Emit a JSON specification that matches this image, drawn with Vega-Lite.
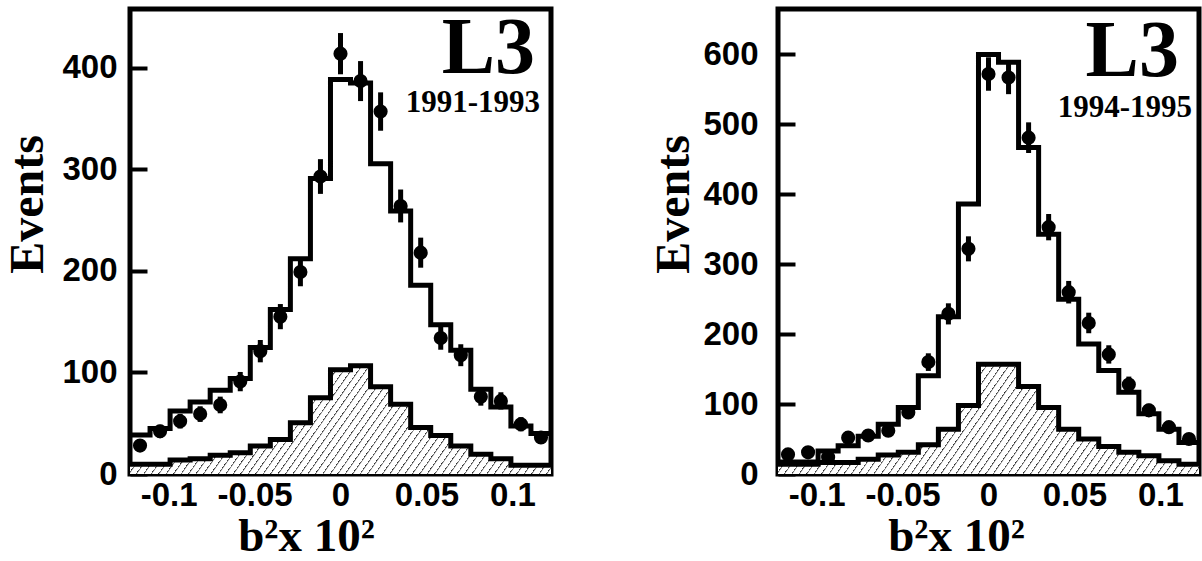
{
  "$schema": "https://vega.github.io/schema/vega-lite/v6.json",
  "background": "white",
  "padding": {"left": 2, "top": 6, "right": 0, "bottom": 0},
  "spacing": 84,
  "config": {
    "view": {"stroke": "black", "strokeWidth": 5},
    "axis": {"domain": false, "grid": false, "ticks": true, "tickColor": "black", "tickWidth": 4, "labelFont": "Liberation Sans", "labelFontWeight": "bold", "labelFontSize": 33, "labelColor": "black", "titleFont": "Liberation Serif", "titleFontWeight": "bold", "titleFontSize": 48, "titleColor": "black", "labelOverlap": false, "labelFlush": false},
    "axisY": {"tickSize": -17},
    "axisX": {"tickSize": -10, "titleFontSize": 47},
    "area": {"fill": {"gradient": "linear", "x1": 0, "y1": 0, "x2": 1.1435, "y2": 0.2073, "stops": [
      {"offset":0,"color":"#fff"},{"offset":0,"color":"#222"},{"offset":0.0035,"color":"#fff"},
      {"offset":0.015,"color":"#fff"},{"offset":0.015,"color":"#222"},{"offset":0.0185,"color":"#fff"},
      {"offset":0.03,"color":"#fff"},{"offset":0.03,"color":"#222"},{"offset":0.0335,"color":"#fff"},
      {"offset":0.045,"color":"#fff"},{"offset":0.045,"color":"#222"},{"offset":0.0485,"color":"#fff"},
      {"offset":0.06,"color":"#fff"},{"offset":0.06,"color":"#222"},{"offset":0.0635,"color":"#fff"},
      {"offset":0.075,"color":"#fff"},{"offset":0.075,"color":"#222"},{"offset":0.0785,"color":"#fff"},
      {"offset":0.09,"color":"#fff"},{"offset":0.09,"color":"#222"},{"offset":0.0935,"color":"#fff"},
      {"offset":0.105,"color":"#fff"},{"offset":0.105,"color":"#222"},{"offset":0.1085,"color":"#fff"},
      {"offset":0.12,"color":"#fff"},{"offset":0.12,"color":"#222"},{"offset":0.1235,"color":"#fff"},
      {"offset":0.135,"color":"#fff"},{"offset":0.135,"color":"#222"},{"offset":0.1385,"color":"#fff"},
      {"offset":0.15,"color":"#fff"},{"offset":0.15,"color":"#222"},{"offset":0.1535,"color":"#fff"},
      {"offset":0.165,"color":"#fff"},{"offset":0.165,"color":"#222"},{"offset":0.1685,"color":"#fff"},
      {"offset":0.18,"color":"#fff"},{"offset":0.18,"color":"#222"},{"offset":0.1835,"color":"#fff"},
      {"offset":0.195,"color":"#fff"},{"offset":0.195,"color":"#222"},{"offset":0.1985,"color":"#fff"},
      {"offset":0.21,"color":"#fff"},{"offset":0.21,"color":"#222"},{"offset":0.2135,"color":"#fff"},
      {"offset":0.225,"color":"#fff"},{"offset":0.225,"color":"#222"},{"offset":0.2285,"color":"#fff"},
      {"offset":0.24,"color":"#fff"},{"offset":0.24,"color":"#222"},{"offset":0.2435,"color":"#fff"},
      {"offset":0.255,"color":"#fff"},{"offset":0.255,"color":"#222"},{"offset":0.2585,"color":"#fff"},
      {"offset":0.27,"color":"#fff"},{"offset":0.27,"color":"#222"},{"offset":0.2735,"color":"#fff"},
      {"offset":0.285,"color":"#fff"},{"offset":0.285,"color":"#222"},{"offset":0.2885,"color":"#fff"},
      {"offset":0.3,"color":"#fff"},{"offset":0.3,"color":"#222"},{"offset":0.3035,"color":"#fff"},
      {"offset":0.315,"color":"#fff"},{"offset":0.315,"color":"#222"},{"offset":0.3185,"color":"#fff"},
      {"offset":0.33,"color":"#fff"},{"offset":0.33,"color":"#222"},{"offset":0.3335,"color":"#fff"},
      {"offset":0.345,"color":"#fff"},{"offset":0.345,"color":"#222"},{"offset":0.3485,"color":"#fff"},
      {"offset":0.36,"color":"#fff"},{"offset":0.36,"color":"#222"},{"offset":0.3635,"color":"#fff"},
      {"offset":0.375,"color":"#fff"},{"offset":0.375,"color":"#222"},{"offset":0.3785,"color":"#fff"},
      {"offset":0.39,"color":"#fff"},{"offset":0.39,"color":"#222"},{"offset":0.3935,"color":"#fff"},
      {"offset":0.405,"color":"#fff"},{"offset":0.405,"color":"#222"},{"offset":0.4085,"color":"#fff"},
      {"offset":0.42,"color":"#fff"},{"offset":0.42,"color":"#222"},{"offset":0.4235,"color":"#fff"},
      {"offset":0.435,"color":"#fff"},{"offset":0.435,"color":"#222"},{"offset":0.4385,"color":"#fff"},
      {"offset":0.45,"color":"#fff"},{"offset":0.45,"color":"#222"},{"offset":0.4535,"color":"#fff"},
      {"offset":0.465,"color":"#fff"},{"offset":0.465,"color":"#222"},{"offset":0.4685,"color":"#fff"},
      {"offset":0.48,"color":"#fff"},{"offset":0.48,"color":"#222"},{"offset":0.4835,"color":"#fff"},
      {"offset":0.495,"color":"#fff"},{"offset":0.495,"color":"#222"},{"offset":0.4985,"color":"#fff"},
      {"offset":0.51,"color":"#fff"},{"offset":0.51,"color":"#222"},{"offset":0.5135,"color":"#fff"},
      {"offset":0.525,"color":"#fff"},{"offset":0.525,"color":"#222"},{"offset":0.5285,"color":"#fff"},
      {"offset":0.54,"color":"#fff"},{"offset":0.54,"color":"#222"},{"offset":0.5435,"color":"#fff"},
      {"offset":0.555,"color":"#fff"},{"offset":0.555,"color":"#222"},{"offset":0.5585,"color":"#fff"},
      {"offset":0.57,"color":"#fff"},{"offset":0.57,"color":"#222"},{"offset":0.5735,"color":"#fff"},
      {"offset":0.585,"color":"#fff"},{"offset":0.585,"color":"#222"},{"offset":0.5885,"color":"#fff"},
      {"offset":0.6,"color":"#fff"},{"offset":0.6,"color":"#222"},{"offset":0.6035,"color":"#fff"},
      {"offset":0.615,"color":"#fff"},{"offset":0.615,"color":"#222"},{"offset":0.6185,"color":"#fff"},
      {"offset":0.63,"color":"#fff"},{"offset":0.63,"color":"#222"},{"offset":0.6335,"color":"#fff"},
      {"offset":0.645,"color":"#fff"},{"offset":0.645,"color":"#222"},{"offset":0.6485,"color":"#fff"},
      {"offset":0.66,"color":"#fff"},{"offset":0.66,"color":"#222"},{"offset":0.6635,"color":"#fff"},
      {"offset":0.675,"color":"#fff"},{"offset":0.675,"color":"#222"},{"offset":0.6785,"color":"#fff"},
      {"offset":0.69,"color":"#fff"},{"offset":0.69,"color":"#222"},{"offset":0.6935,"color":"#fff"},
      {"offset":0.705,"color":"#fff"},{"offset":0.705,"color":"#222"},{"offset":0.7085,"color":"#fff"},
      {"offset":0.72,"color":"#fff"},{"offset":0.72,"color":"#222"},{"offset":0.7235,"color":"#fff"},
      {"offset":0.735,"color":"#fff"},{"offset":0.735,"color":"#222"},{"offset":0.7385,"color":"#fff"},
      {"offset":0.75,"color":"#fff"},{"offset":0.75,"color":"#222"},{"offset":0.7535,"color":"#fff"},
      {"offset":0.765,"color":"#fff"},{"offset":0.765,"color":"#222"},{"offset":0.7685,"color":"#fff"},
      {"offset":0.78,"color":"#fff"},{"offset":0.78,"color":"#222"},{"offset":0.7835,"color":"#fff"},
      {"offset":0.795,"color":"#fff"},{"offset":0.795,"color":"#222"},{"offset":0.7985,"color":"#fff"},
      {"offset":0.81,"color":"#fff"},{"offset":0.81,"color":"#222"},{"offset":0.8135,"color":"#fff"},
      {"offset":0.825,"color":"#fff"},{"offset":0.825,"color":"#222"},{"offset":0.8285,"color":"#fff"},
      {"offset":0.84,"color":"#fff"},{"offset":0.84,"color":"#222"},{"offset":0.8435,"color":"#fff"},
      {"offset":0.855,"color":"#fff"},{"offset":0.855,"color":"#222"},{"offset":0.8585,"color":"#fff"},
      {"offset":0.87,"color":"#fff"},{"offset":0.87,"color":"#222"},{"offset":0.8735,"color":"#fff"},
      {"offset":0.885,"color":"#fff"},{"offset":0.885,"color":"#222"},{"offset":0.8885,"color":"#fff"},
      {"offset":0.9,"color":"#fff"},{"offset":0.9,"color":"#222"},{"offset":0.9035,"color":"#fff"},
      {"offset":0.915,"color":"#fff"},{"offset":0.915,"color":"#222"},{"offset":0.9185,"color":"#fff"},
      {"offset":0.93,"color":"#fff"},{"offset":0.93,"color":"#222"},{"offset":0.9335,"color":"#fff"},
      {"offset":0.945,"color":"#fff"},{"offset":0.945,"color":"#222"},{"offset":0.9485,"color":"#fff"},
      {"offset":0.96,"color":"#fff"},{"offset":0.96,"color":"#222"},{"offset":0.9635,"color":"#fff"},
      {"offset":0.975,"color":"#fff"},{"offset":0.975,"color":"#222"},{"offset":0.9785,"color":"#fff"},
      {"offset":0.99,"color":"#fff"},{"offset":0.99,"color":"#222"},{"offset":0.9935,"color":"#fff"},
      {"offset":1,"color":"#fff"}
    ]}}
  },
  "datasets": {
    "left": [
      {"i": 1, "x0": -0.1225, "x1": -0.110833, "xc": -0.116667, "n": 28, "lo": 22.7, "hi": 33.3, "mc": 38.5, "bg": 9.5},
      {"i": 2, "x0": -0.110833, "x1": -0.099167, "xc": -0.105, "n": 42, "lo": 35.5, "hi": 48.5, "mc": 44.7, "bg": 9.5},
      {"i": 3, "x0": -0.099167, "x1": -0.0875, "xc": -0.093333, "n": 52, "lo": 44.8, "hi": 59.2, "mc": 62, "bg": 13.8},
      {"i": 4, "x0": -0.0875, "x1": -0.075833, "xc": -0.081667, "n": 59, "lo": 51.3, "hi": 66.7, "mc": 71, "bg": 15},
      {"i": 5, "x0": -0.075833, "x1": -0.064167, "xc": -0.07, "n": 68, "lo": 59.8, "hi": 76.2, "mc": 82.5, "bg": 18.4},
      {"i": 6, "x0": -0.064167, "x1": -0.0525, "xc": -0.058333, "n": 91, "lo": 81.5, "hi": 100.5, "mc": 94, "bg": 21},
      {"i": 7, "x0": -0.0525, "x1": -0.040833, "xc": -0.046667, "n": 121, "lo": 110, "hi": 132, "mc": 124.7, "bg": 27.6},
      {"i": 8, "x0": -0.040833, "x1": -0.029167, "xc": -0.035, "n": 155, "lo": 142.6, "hi": 167.4, "mc": 162, "bg": 34},
      {"i": 9, "x0": -0.029167, "x1": -0.0175, "xc": -0.023333, "n": 199, "lo": 184.9, "hi": 213.1, "mc": 212, "bg": 50.6},
      {"i": 10, "x0": -0.0175, "x1": -0.005833, "xc": -0.011667, "n": 293, "lo": 275.9, "hi": 310.1, "mc": 291, "bg": 75},
      {"i": 11, "x0": -0.005833, "x1": 0.005833, "xc": 0, "n": 414, "lo": 393.7, "hi": 434.3, "mc": 388.6, "bg": 102.7},
      {"i": 12, "x0": 0.005833, "x1": 0.0175, "xc": 0.011667, "n": 387, "lo": 367.3, "hi": 406.7, "mc": 385, "bg": 106.6},
      {"i": 13, "x0": 0.0175, "x1": 0.029167, "xc": 0.023333, "n": 357, "lo": 338.1, "hi": 375.9, "mc": 305.6, "bg": 86},
      {"i": 14, "x0": 0.029167, "x1": 0.040833, "xc": 0.035, "n": 264, "lo": 247.8, "hi": 280.2, "mc": 259, "bg": 68.7},
      {"i": 15, "x0": 0.040833, "x1": 0.0525, "xc": 0.046667, "n": 218, "lo": 203.2, "hi": 232.8, "mc": 186, "bg": 45.7},
      {"i": 16, "x0": 0.0525, "x1": 0.064167, "xc": 0.058333, "n": 134, "lo": 122.4, "hi": 145.6, "mc": 147, "bg": 38},
      {"i": 17, "x0": 0.064167, "x1": 0.075833, "xc": 0.07, "n": 117, "lo": 106.2, "hi": 127.8, "mc": 122, "bg": 27.6},
      {"i": 18, "x0": 0.075833, "x1": 0.0875, "xc": 0.081667, "n": 76, "lo": 67.3, "hi": 84.7, "mc": 83.5, "bg": 19.4},
      {"i": 19, "x0": 0.0875, "x1": 0.099167, "xc": 0.093333, "n": 72, "lo": 63.5, "hi": 80.5, "mc": 66, "bg": 15},
      {"i": 20, "x0": 0.099167, "x1": 0.110833, "xc": 0.105, "n": 49, "lo": 42, "hi": 56, "mc": 47.4, "bg": 8.5},
      {"i": 21, "x0": 0.110833, "x1": 0.1225, "xc": 0.116667, "n": 36, "lo": 30, "hi": 42, "mc": 40, "bg": 8.5}
    ],
    "right": [
      {"i": 1, "x0": -0.1225, "x1": -0.110833, "xc": -0.116667, "n": 28, "lo": 22.7, "hi": 33.3, "mc": 17, "bg": 14},
      {"i": 2, "x0": -0.110833, "x1": -0.099167, "xc": -0.105, "n": 31, "lo": 25.4, "hi": 36.6, "mc": 17, "bg": 14},
      {"i": 3, "x0": -0.099167, "x1": -0.0875, "xc": -0.093333, "n": 24, "lo": 19.1, "hi": 28.9, "mc": 33, "bg": 16.6},
      {"i": 4, "x0": -0.0875, "x1": -0.075833, "xc": -0.081667, "n": 52, "lo": 44.8, "hi": 59.2, "mc": 40.5, "bg": 16.6},
      {"i": 5, "x0": -0.075833, "x1": -0.064167, "xc": -0.07, "n": 55, "lo": 47.6, "hi": 62.4, "mc": 54, "bg": 21},
      {"i": 6, "x0": -0.064167, "x1": -0.0525, "xc": -0.058333, "n": 62, "lo": 54.1, "hi": 69.9, "mc": 71, "bg": 27},
      {"i": 7, "x0": -0.0525, "x1": -0.040833, "xc": -0.046667, "n": 88, "lo": 78.6, "hi": 97.4, "mc": 95, "bg": 31},
      {"i": 8, "x0": -0.040833, "x1": -0.029167, "xc": -0.035, "n": 160, "lo": 147.4, "hi": 172.6, "mc": 140.6, "bg": 42},
      {"i": 9, "x0": -0.029167, "x1": -0.0175, "xc": -0.023333, "n": 229, "lo": 213.9, "hi": 244.1, "mc": 225, "bg": 64},
      {"i": 10, "x0": -0.0175, "x1": -0.005833, "xc": -0.011667, "n": 322, "lo": 304.1, "hi": 339.9, "mc": 386, "bg": 98},
      {"i": 11, "x0": -0.005833, "x1": 0.005833, "xc": 0, "n": 572, "lo": 548.1, "hi": 595.9, "mc": 600, "bg": 157},
      {"i": 12, "x0": 0.005833, "x1": 0.0175, "xc": 0.011667, "n": 567, "lo": 543.2, "hi": 590.8, "mc": 589, "bg": 157},
      {"i": 13, "x0": 0.0175, "x1": 0.029167, "xc": 0.023333, "n": 481, "lo": 459.1, "hi": 502.9, "mc": 467, "bg": 125},
      {"i": 14, "x0": 0.029167, "x1": 0.040833, "xc": 0.035, "n": 353, "lo": 334.2, "hi": 371.8, "mc": 343, "bg": 95},
      {"i": 15, "x0": 0.040833, "x1": 0.0525, "xc": 0.046667, "n": 260, "lo": 243.9, "hi": 276.1, "mc": 250, "bg": 64},
      {"i": 16, "x0": 0.0525, "x1": 0.064167, "xc": 0.058333, "n": 216, "lo": 201.3, "hi": 230.7, "mc": 186, "bg": 50},
      {"i": 17, "x0": 0.064167, "x1": 0.075833, "xc": 0.07, "n": 171, "lo": 157.9, "hi": 184.1, "mc": 148, "bg": 39.5},
      {"i": 18, "x0": 0.075833, "x1": 0.0875, "xc": 0.081667, "n": 128, "lo": 116.7, "hi": 139.3, "mc": 117, "bg": 31},
      {"i": 19, "x0": 0.0875, "x1": 0.099167, "xc": 0.093333, "n": 91, "lo": 81.5, "hi": 100.5, "mc": 86, "bg": 26},
      {"i": 20, "x0": 0.099167, "x1": 0.110833, "xc": 0.105, "n": 67, "lo": 58.8, "hi": 75.2, "mc": 64, "bg": 19},
      {"i": 21, "x0": 0.110833, "x1": 0.1225, "xc": 0.116667, "n": 50, "lo": 42.9, "hi": 57.1, "mc": 45, "bg": 14}
    ]
  },
  "hconcat": [
    {
      "width": 421,
      "height": 465,
      "data": {"name": "left"},
      "layer": [
        {
          "transform": [{"fold": ["x0", "x1"], "as": ["edge", "xe"]}],
          "mark": {"type": "area", "interpolate": "linear"},
          "encoding": {
            "x": {"field": "xe", "type": "quantitative", "scale": {"domain": [-0.1225, 0.1225], "nice": false, "zero": false}, "axis": {"values": [-0.1, -0.05, 0, 0.05, 0.1], "labelExpr": "toString(datum.value)", "labelPadding": 15, "title": "b²x 10²", "titlePadding": 1, "titleX": 176}},
            "y": {"field": "bg", "type": "quantitative", "stack": null, "scale": {"domain": [0, 458], "nice": false}, "axis": {"values": [0, 100, 200, 300, 400], "labelPadding": 30, "title": "Events", "titlePadding": 9, "titleY": 195}},
            "order": [{"field": "i", "type": "quantitative"}, {"field": "edge", "type": "nominal"}]
          }
        },
        {
          "transform": [{"fold": ["x0", "x1"], "as": ["edge", "xe"]}],
          "mark": {"type": "line", "color": "black", "strokeWidth": 5, "strokeJoin": "miter", "interpolate": "linear"},
          "encoding": {
            "x": {"field": "xe", "type": "quantitative"},
            "y": {"field": "bg", "type": "quantitative"},
            "order": [{"field": "i", "type": "quantitative"}, {"field": "edge", "type": "nominal"}]
          }
        },
        {
          "transform": [{"fold": ["x0", "x1"], "as": ["edge", "xe"]}],
          "mark": {"type": "line", "color": "black", "strokeWidth": 5, "strokeJoin": "miter", "interpolate": "linear"},
          "encoding": {
            "x": {"field": "xe", "type": "quantitative"},
            "y": {"field": "mc", "type": "quantitative"},
            "order": [{"field": "i", "type": "quantitative"}, {"field": "edge", "type": "nominal"}]
          }
        },
        {
          "mark": {"type": "rule", "color": "black", "strokeWidth": 5},
          "encoding": {
            "x": {"field": "xc", "type": "quantitative"},
            "y": {"field": "lo", "type": "quantitative"},
            "y2": {"field": "hi"}
          }
        },
        {
          "mark": {"type": "point", "filled": true, "color": "black", "opacity": 1, "size": 200},
          "encoding": {
            "x": {"field": "xc", "type": "quantitative"},
            "y": {"field": "n", "type": "quantitative"}
          }
        },
        {
          "data": {"values": [{"t": "L3"}]},
          "mark": {"type": "text", "font": "Liberation Serif", "fontWeight": "bold", "fontSize": 80, "align": "right", "baseline": "alphabetic", "color": "black"},
          "encoding": {"x": {"datum": 0.1132}, "y": {"datum": 395}, "text": {"field": "t"}}
        },
        {
          "data": {"values": [{"t": "1991-1993"}]},
          "mark": {"type": "text", "font": "Liberation Serif", "fontWeight": "bold", "fontSize": 31, "align": "right", "baseline": "alphabetic", "color": "black"},
          "encoding": {"x": {"datum": 0.1161}, "y": {"datum": 357}, "text": {"field": "t"}}
        }
      ]
    },
    {
      "width": 421,
      "height": 465,
      "data": {"name": "right"},
      "layer": [
        {
          "transform": [{"fold": ["x0", "x1"], "as": ["edge", "xe"]}],
          "mark": {"type": "area", "interpolate": "linear"},
          "encoding": {
            "x": {"field": "xe", "type": "quantitative", "scale": {"domain": [-0.1225, 0.1225], "nice": false, "zero": false}, "axis": {"values": [-0.1, -0.05, 0, 0.05, 0.1], "labelExpr": "toString(datum.value)", "labelPadding": 15, "title": "b²x 10²", "titlePadding": 1, "titleX": 178}},
            "y": {"field": "bg", "type": "quantitative", "stack": null, "scale": {"domain": [0, 665], "nice": false}, "axis": {"values": [0, 100, 200, 300, 400, 500, 600], "labelPadding": 37, "title": "Events", "titlePadding": 4, "titleY": 195}},
            "order": [{"field": "i", "type": "quantitative"}, {"field": "edge", "type": "nominal"}]
          }
        },
        {
          "transform": [{"fold": ["x0", "x1"], "as": ["edge", "xe"]}],
          "mark": {"type": "line", "color": "black", "strokeWidth": 5, "strokeJoin": "miter", "interpolate": "linear"},
          "encoding": {
            "x": {"field": "xe", "type": "quantitative"},
            "y": {"field": "bg", "type": "quantitative"},
            "order": [{"field": "i", "type": "quantitative"}, {"field": "edge", "type": "nominal"}]
          }
        },
        {
          "transform": [{"fold": ["x0", "x1"], "as": ["edge", "xe"]}],
          "mark": {"type": "line", "color": "black", "strokeWidth": 5, "strokeJoin": "miter", "interpolate": "linear"},
          "encoding": {
            "x": {"field": "xe", "type": "quantitative"},
            "y": {"field": "mc", "type": "quantitative"},
            "order": [{"field": "i", "type": "quantitative"}, {"field": "edge", "type": "nominal"}]
          }
        },
        {
          "mark": {"type": "rule", "color": "black", "strokeWidth": 5},
          "encoding": {
            "x": {"field": "xc", "type": "quantitative"},
            "y": {"field": "lo", "type": "quantitative"},
            "y2": {"field": "hi"}
          }
        },
        {
          "mark": {"type": "point", "filled": true, "color": "black", "opacity": 1, "size": 200},
          "encoding": {
            "x": {"field": "xc", "type": "quantitative"},
            "y": {"field": "n", "type": "quantitative"}
          }
        },
        {
          "data": {"values": [{"t": "L3"}]},
          "mark": {"type": "text", "font": "Liberation Serif", "fontWeight": "bold", "fontSize": 80, "align": "right", "baseline": "alphabetic", "color": "black"},
          "encoding": {"x": {"datum": 0.1108}, "y": {"datum": 569}, "text": {"field": "t"}}
        },
        {
          "data": {"values": [{"t": "1994-1995"}]},
          "mark": {"type": "text", "font": "Liberation Serif", "fontWeight": "bold", "fontSize": 31, "align": "right", "baseline": "alphabetic", "color": "black"},
          "encoding": {"x": {"datum": 0.1184}, "y": {"datum": 511}, "text": {"field": "t"}}
        }
      ]
    }
  ]
}
